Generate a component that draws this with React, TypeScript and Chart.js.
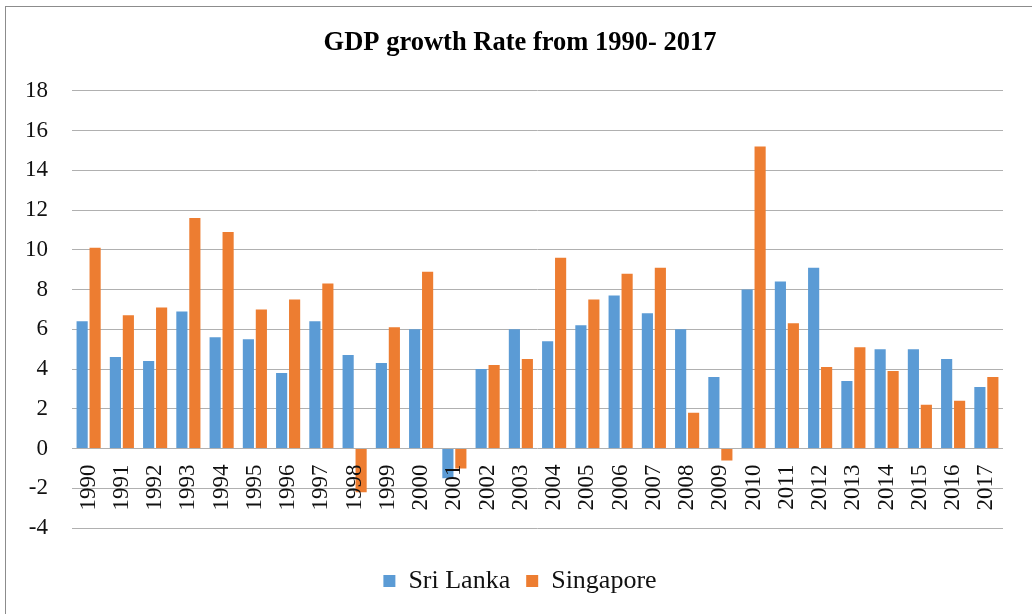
import React, { useEffect, useRef } from "react";
import { Chart, registerables } from "chart.js";

Chart.register(...registerables);

const years: string[] = [
  "1990", "1991", "1992", "1993", "1994", "1995", "1996", "1997", "1998", "1999",
  "2000", "2001", "2002", "2003", "2004", "2005", "2006", "2007", "2008", "2009",
  "2010", "2011", "2012", "2013", "2014", "2015", "2016", "2017",
];

const sriLanka: number[] = [
  6.4, 4.6, 4.4, 6.9, 5.6, 5.5, 3.8, 6.4, 4.7, 4.3,
  6.0, -1.5, 4.0, 6.0, 5.4, 6.2, 7.7, 6.8, 6.0, 3.6,
  8.0, 8.4, 9.1, 3.4, 5.0, 5.0, 4.5, 3.1,
];

const singapore: number[] = [
  10.1, 6.7, 7.1, 11.6, 10.9, 7.0, 7.5, 8.3, -2.2, 6.1,
  8.9, -1.0, 4.2, 4.5, 9.6, 7.5, 8.8, 9.1, 1.8, -0.6,
  15.2, 6.3, 4.1, 5.1, 3.9, 2.2, 2.4, 3.6,
];

const yTickMin = -4;
const yTickMax = 18;
const yTickStep = 2;

const titleText = "GDP growth Rate from 1990- 2017";
const seriesNames = ["Sri Lanka", "Singapore"];
const seriesColors = ["#5B9BD5", "#ED7D31"];

export default function App() {
  const canvasRef = useRef<HTMLCanvasElement | null>(null);

  useEffect(() => {
    if (!canvasRef.current) return;
    const serif = "'Liberation Serif', 'Times New Roman', serif";
    const chart = new Chart(canvasRef.current, {
      type: "bar",
      data: {
        labels: years,
        datasets: [
          {
            label: seriesNames[0],
            data: sriLanka,
            backgroundColor: seriesColors[0],
            categoryPercentage: 0.78,
            barPercentage: 0.86,
          },
          {
            label: seriesNames[1],
            data: singapore,
            backgroundColor: seriesColors[1],
            categoryPercentage: 0.78,
            barPercentage: 0.86,
          },
        ],
      },
      options: {
        animation: false,
        responsive: false,
        maintainAspectRatio: false,
        layout: { padding: { left: 37, right: 29, top: 0, bottom: 10 } },
        plugins: {
          title: {
            display: true,
            text: titleText,
            color: "#000",
            font: { family: serif, size: 26.5, weight: "bold" },
            padding: { top: 27, bottom: 32 },
          },
          legend: {
            display: true,
            position: "bottom",
            labels: {
              color: "#111",
              font: { family: serif, size: 26 },
              boxWidth: 12,
              boxHeight: 12,
              padding: 16,
            },
          },
          tooltip: { enabled: false },
        },
        scales: {
          x: {
            position: { y: 0 },
            grid: { display: false, drawTicks: false },
            border: { display: false },
            ticks: {
              z: 1,
              autoSkip: false,
              minRotation: 90,
              maxRotation: 90,
              padding: 16,
              color: "#111",
              font: { family: serif, size: 23 },
            },
          },
          spacer: {
            type: "category",
            position: "bottom",
            display: true,
            grid: { display: false, drawTicks: false },
            border: { display: false },
            ticks: { display: false },
            afterFit: (scale: any) => {
              scale.height = 24;
            },
          },
          y: {
            min: yTickMin,
            max: yTickMax,
            grid: { color: "#b0b0b0", lineWidth: 1, drawTicks: false },
            border: { display: false },
            ticks: {
              stepSize: yTickStep,
              padding: 24,
              color: "#111",
              font: { family: serif, size: 23 },
            },
            afterFit: (scale: any) => {
              scale.width = 35;
              scale._computeLabelArea = () => undefined;
            },
          },
        },
      },
    });
    return () => chart.destroy();
  }, []);

  return (
    <div style={{ position: "absolute", left: 0, top: 0, width: 1032, height: 614, overflow: "hidden", background: "#fff" }}>
      <div
        style={{
          position: "absolute",
          left: 5,
          top: 6,
          width: 1100,
          height: 700,
          borderLeft: "1px solid #8c8c8c",
          borderTop: "1px solid #8c8c8c",
        }}
      />
      <canvas
        ref={canvasRef}
        width={1032}
        height={614}
        style={{ position: "absolute", left: 0, top: 0, width: 1032, height: 614 }}
      />
    </div>
  );
}
